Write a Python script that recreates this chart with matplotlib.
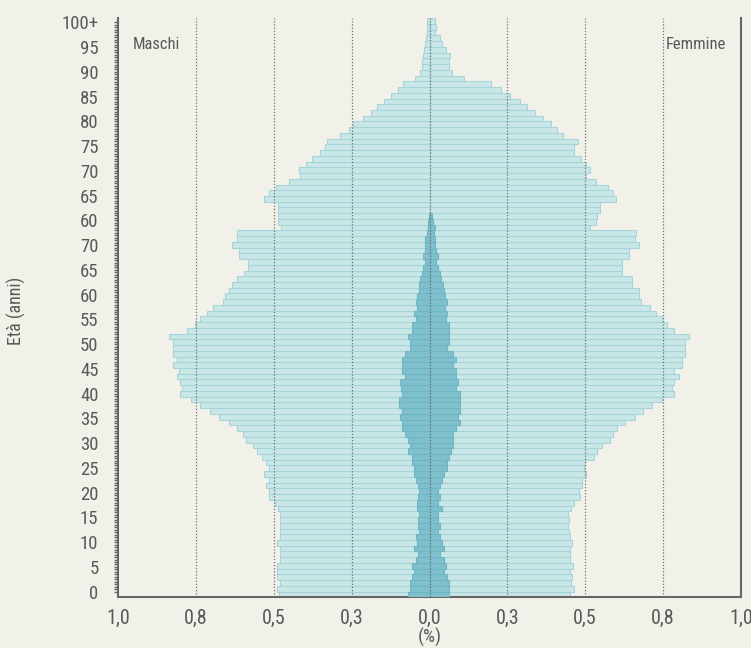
import numpy as np
import matplotlib
matplotlib.use("agg")
import matplotlib.pyplot as plt

# ---- data (% of total population), index = age row 0..100+ ----
maschi = [0.484, 0.490, 0.481, 0.490, 0.488, 0.490, 0.481, 0.481, 0.481, 0.490,
          0.481, 0.481, 0.481, 0.481, 0.481, 0.487, 0.496, 0.515, 0.516, 0.525,
          0.516, 0.532, 0.516, 0.526, 0.538, 0.553, 0.567, 0.590, 0.600, 0.619,
          0.644, 0.676, 0.705, 0.737, 0.767, 0.802, 0.793, 0.800, 0.811, 0.803,
          0.822, 0.811, 0.822, 0.822, 0.822, 0.837, 0.779, 0.752, 0.737, 0.715,
          0.696, 0.664, 0.657, 0.643, 0.635, 0.619, 0.595, 0.583, 0.583, 0.611,
          0.611, 0.635, 0.619, 0.619, 0.476, 0.485, 0.485, 0.485, 0.485, 0.530,
          0.516, 0.494, 0.452, 0.416, 0.420, 0.397, 0.378, 0.350, 0.337, 0.330,
          0.288, 0.259, 0.244, 0.212, 0.187, 0.167, 0.147, 0.124, 0.102, 0.084,
          0.047, 0.030, 0.025, 0.025, 0.021, 0.018, 0.015, 0.012, 0.007, 0.007,
          0.007]
femmine = [0.451, 0.464, 0.455, 0.458, 0.452, 0.461, 0.451, 0.451, 0.451, 0.458,
           0.451, 0.447, 0.445, 0.447, 0.445, 0.455, 0.463, 0.484, 0.481, 0.490,
           0.490, 0.503, 0.496, 0.499, 0.528, 0.538, 0.554, 0.580, 0.589, 0.603,
           0.627, 0.659, 0.685, 0.715, 0.747, 0.785, 0.778, 0.785, 0.802, 0.785,
           0.810, 0.810, 0.821, 0.821, 0.821, 0.834, 0.786, 0.763, 0.747, 0.728,
           0.709, 0.678, 0.672, 0.672, 0.651, 0.651, 0.617, 0.617, 0.617, 0.641,
           0.641, 0.672, 0.661, 0.664, 0.516, 0.533, 0.538, 0.548, 0.548, 0.599,
           0.590, 0.574, 0.534, 0.501, 0.515, 0.501, 0.487, 0.465, 0.465, 0.478,
           0.428, 0.409, 0.391, 0.365, 0.339, 0.314, 0.291, 0.259, 0.230, 0.198,
           0.112, 0.072, 0.062, 0.062, 0.066, 0.054, 0.040, 0.033, 0.019, 0.021,
           0.019]
# foreign residents (darker bars), ages 0..66
maschi_str = [0.070, 0.063, 0.063, 0.057, 0.050, 0.057, 0.044, 0.038, 0.050, 0.040,
              0.044, 0.034, 0.038, 0.038, 0.034, 0.040, 0.040, 0.038, 0.034, 0.038,
              0.044, 0.050, 0.050, 0.057, 0.057, 0.070, 0.063, 0.070, 0.079, 0.089,
              0.089, 0.094, 0.089, 0.098, 0.098, 0.089, 0.092, 0.095, 0.079, 0.089,
              0.089, 0.089, 0.079, 0.063, 0.063, 0.070, 0.057, 0.057, 0.044, 0.050,
              0.041, 0.044, 0.041, 0.034, 0.034, 0.031, 0.025, 0.021, 0.016, 0.021,
              0.015, 0.015, 0.015, 0.009, 0.006, 0.004, 0.002]
femmine_str = [0.063, 0.063, 0.063, 0.057, 0.047, 0.054, 0.047, 0.034, 0.047, 0.041,
               0.034, 0.028, 0.034, 0.028, 0.028, 0.041, 0.028, 0.034, 0.028, 0.034,
               0.041, 0.047, 0.057, 0.057, 0.063, 0.070, 0.076, 0.076, 0.076, 0.086,
               0.098, 0.092, 0.098, 0.098, 0.098, 0.098, 0.086, 0.092, 0.086, 0.086,
               0.076, 0.086, 0.076, 0.057, 0.063, 0.063, 0.063, 0.063, 0.054, 0.056,
               0.051, 0.056, 0.051, 0.047, 0.043, 0.038, 0.034, 0.028, 0.021, 0.027,
               0.021, 0.018, 0.018, 0.015, 0.017, 0.011, 0.009]
eta_labels = ['0', '5', '10', '15', '20', '25', '30', '35', '40', '45', '50', '55',
              '60', '65', '70', '60', '65', '70', '75', '80', '85', '90', '95', '100+']
x_ticks = [-1.0, -0.75, -0.5, -0.25, 0.0, 0.25, 0.5, 0.75, 1.0]
x_labels = ['1,0', '0,8', '0,5', '0,3', '0,0', '0,3', '0,5', '0,8', '1,0']

bg = '#f2f1e9'
txt = '#595959'
light = '#c9e7e6'
light_edge = '#a7d4da'
dark = '#80bfcc'
dark_edge = '#6fb6c5'

plt.rcParams['font.family'] = ['Roboto Condensed', 'Liberation Sans Narrow', 'Roboto', 'DejaVu Sans']
plt.rcParams['font.stretch'] = 'condensed'

fig = plt.figure(figsize=(7.51, 6.48), dpi=100, facecolor=bg)
ax = fig.add_axes([118/751, (648-597.3)/648, (741-118)/751, (597.3-18.3)/648])
ax.set_facecolor(bg)

y = np.arange(len(maschi))
ys = np.arange(len(maschi_str))
ax.barh(y, -np.array(maschi), height=1.0, color=light, edgecolor=light_edge, linewidth=0.8, zorder=2)
ax.barh(y, femmine, height=1.0, color=light, edgecolor=light_edge, linewidth=0.8, zorder=2)
ax.barh(ys, -np.array(maschi_str), height=1.0, color=dark, edgecolor=dark_edge, linewidth=0.8, zorder=3)
ax.barh(ys, femmine_str, height=1.0, color=dark, edgecolor=dark_edge, linewidth=0.8, zorder=3)

for xv in x_ticks[1:-1]:
    ax.axvline(xv, color='#6e6e6e', linestyle=(0, (1, 1.5)), linewidth=0.9, zorder=4)

ax.set_xlim(-1.0, 1.0)
ax.set_ylim(-0.5, 100.5)

ax.set_xticks(x_ticks)
ax.set_xticklabels(x_labels)
ax.tick_params(axis='x', length=0, pad=8, labelsize=14.5, labelcolor=txt)

ypos = np.linspace(0.48, 99.78, len(eta_labels))
ax.set_yticks(ypos)
ax.set_yticklabels(eta_labels)
ax.set_yticks(np.linspace(0.48, 99.78, 231), minor=True)
ax.tick_params(axis='y', which='both', length=3, width=1.0, color='#666666',
               direction='out', pad=11, labelsize=13.5, labelcolor=txt)

for s in ['left', 'right', 'bottom']:
    ax.spines[s].set_color('#666666')
    ax.spines[s].set_linewidth(1.5)
ax.spines['top'].set_visible(False)

ax.text(0.024, 0.955, 'Maschi', transform=ax.transAxes, fontsize=12, color=txt,
        ha='left', va='center')
ax.text(0.976, 0.955, 'Femmine', transform=ax.transAxes, fontsize=12, color=txt,
        ha='right', va='center')

fig.text(430/751, 1 - 637/648, '(%)', ha='center', va='center', fontsize=13.5, color=txt)
fig.text(16/751, 1 - 311/648, 'Età (anni)', ha='center', va='center', rotation=90,
         fontsize=13, color=txt)

plt.savefig('out.png', dpi=100, facecolor=bg)
plt.close()
